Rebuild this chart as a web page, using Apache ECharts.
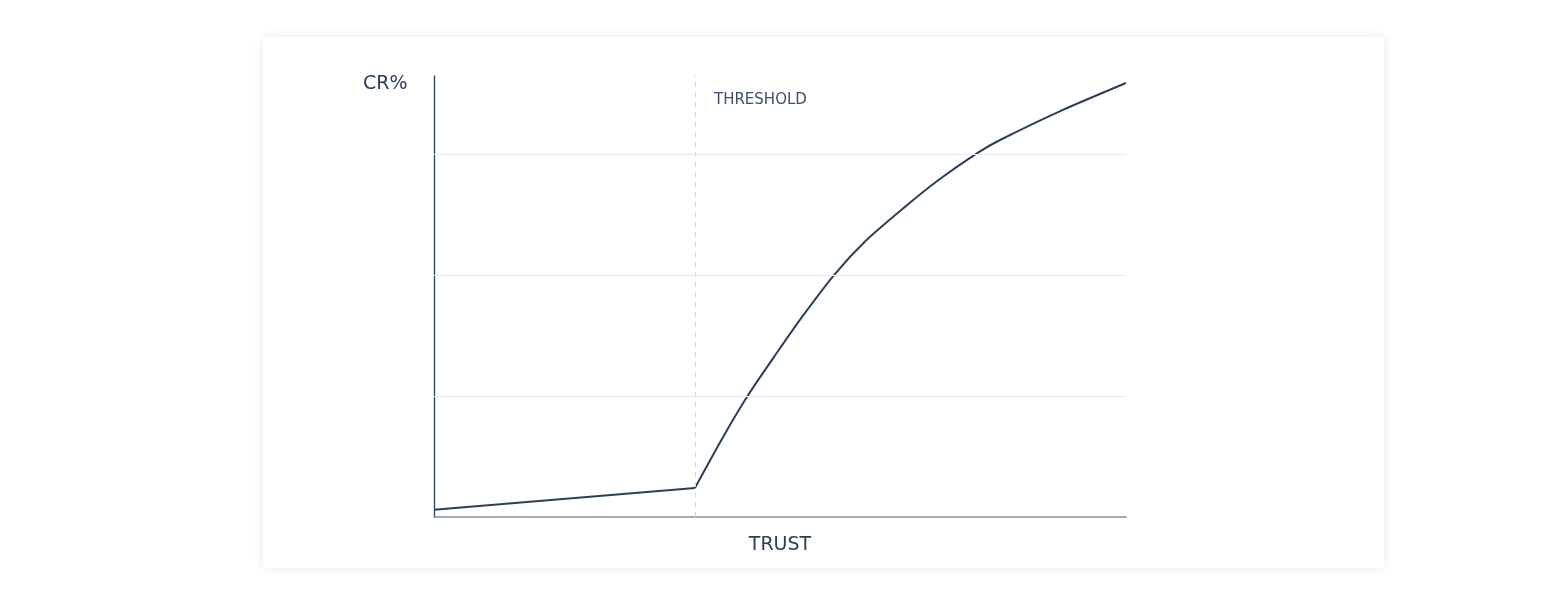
<!DOCTYPE html>
<html>
<head>
<meta charset="utf-8">
<script src="https://cdn.jsdelivr.net/npm/echarts@6/dist/echarts.min.js"></script>
<style>
  html, body { margin: 0; padding: 0; background: #ffffff; }
  #card { position: absolute; left: 263px; top: 37px; width: 1121px; height: 531px; background: #fff;
          box-shadow: 0 0 10px rgba(0,0,0,0.09); }
  #chart { position: absolute; left: 0; top: 0; width: 1560px; height: 593px; }
</style>
</head>
<body>
<div id="card"></div>
<div id="chart"></div>
<script>
// Data (x: trust on 0-100 scale, y: conversion rate units)
const baseX = [0, 37.7];
const baseY = [0.06, 0.24];
const curveX = [37.7, 41.8, 45.4, 49.5, 53.4, 57.9, 62.5, 67.8, 72.9, 78.5, 81.8, 90.5, 100];
const curveY = [0.24, 0.664, 1.008, 1.353, 1.67, 2.006, 2.289, 2.551, 2.785, 3.008, 3.116, 3.355, 3.587];
const thresholdX = 37.7;
const gridLevels = [1, 2, 3];
const yMax = 3.645;
const xMax = 100;

const navy = '#2a3f5a';
const chart = echarts.init(document.getElementById('chart'), null, { renderer: 'canvas' });
chart.setOption({
  backgroundColor: 'transparent',
  animation: false,
  grid: { left: 434, right: 434, top: 76, bottom: 76 },
  xAxis: {
    type: 'value', min: 0, max: xMax,
    name: 'TRUST', nameLocation: 'middle', nameGap: 19,
    nameTextStyle: { color: navy, fontSize: 19, fontFamily: 'DejaVu Sans', fontWeight: 'normal' },
    axisLine: { show: true, lineStyle: { color: '#7f90a5', width: 1.6 } },
    axisTick: { show: false }, axisLabel: { show: false }, splitLine: { show: false }
  },
  yAxis: {
    type: 'value', min: 0, max: yMax,
    axisLine: { show: true, lineStyle: { color: navy, width: 1.3 } },
    axisTick: { show: false }, axisLabel: { show: false }, splitLine: { show: false }
  },
  graphic: [
    { type: 'text', left: 363, top: 75, style: { text: 'CR%', fill: navy, font: '19px "DejaVu Sans"' } },
    { type: 'text', left: 714, top: 93, style: { text: 'THRESHOLD', fill: '#3a4f6b', font: '15px "DejaVu Sans"' } }
  ],
  series: [
    {
      type: 'line', data: baseX.map((x, i) => [x, baseY[i]]),
      symbol: 'none', lineStyle: { color: navy, width: 2 }, z: 2,
      markLine: {
        silent: true, symbol: 'none', animation: false,
        label: { show: false },
        lineStyle: { color: '#d6d6d9', type: [5, 5], width: 1 },
        data: [{ xAxis: thresholdX }]
      }
    },
    {
      type: 'line', data: curveX.map((x, i) => [x, curveY[i]]),
      smooth: 0.25, symbol: 'none', lineStyle: { color: navy, width: 2 }, z: 2,
      markLine: {
        silent: true, symbol: 'none', animation: false, z: 5,
        label: { show: false },
        lineStyle: { color: '#e8e8ee', type: 'solid', width: 1 },
        data: gridLevels.map(v => ({ yAxis: v }))
      }
    }
  ]
});
</script>
</body>
</html>
